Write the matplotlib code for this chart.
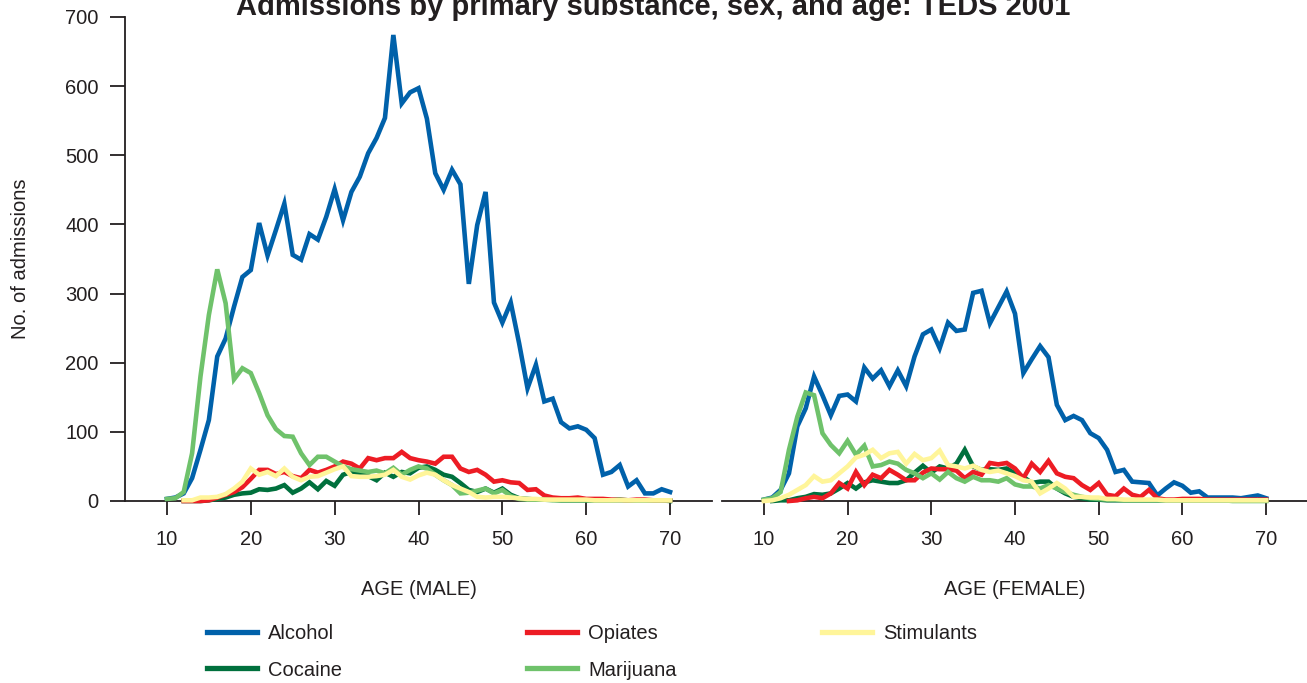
import numpy as np
import matplotlib.pyplot as plt
from matplotlib.lines import Line2D

plt.rcParams['font.family'] = ['Liberation Sans', 'DejaVu Sans']

# --- data: admissions per single year of age, 10..70 ---
ages = np.arange(10, 71)
age_ticks = [10, 20, 30, 40, 50, 60, 70]
y_ticks = [0, 100, 200, 300, 400, 500, 600, 700]

substances = ["Alcohol", "Opiates", "Stimulants", "Cocaine", "Marijuana"]
colors = {
    "Alcohol": "#0061aa",
    "Opiates": "#ed1c24",
    "Stimulants": "#fff59a",
    "Cocaine": "#00703d",
    "Marijuana": "#6fc26b",
}

male_alcohol = [3, 5, 11, 33, 74, 117, 209, 235, 281, 324, 334, 402, 355, 392, 430, 356,
                349, 386, 378, 411, 451, 406, 447, 469, 503, 525, 554, 674, 575, 591, 597,
                553, 474, 450, 479, 458, 314, 399, 447, 287, 258, 287, 228, 163, 197, 144,
                148, 114, 105, 108, 103, 91, 38, 42, 52, 21, 30, 11, 11, 17, 13]
male_opiates = [None, None, 0, 0, 0, 1, 5, 9, 13, 20, 32, 45, 45, 39, 42, 36, 33, 45, 41,
                45, 50, 57, 54, 47, 62, 59, 62, 62, 71, 62, 59, 57, 54, 64, 64, 47, 42, 45,
                38, 28, 30, 27, 26, 16, 17, 8, 5, 4, 4, 5, 3, 3, 3, 2, 2, 1, 2, 2, 1, 1, 1]
male_stimulants = [None, None, 1, 1, 5, 5, 6, 10, 18, 28, 47, 38, 42, 36, 47, 35, 30, 35,
                   36, 41, 46, 50, 36, 35, 35, 36, 38, 45, 35, 31, 37, 41, 38, 30, 23, 18,
                   13, 6, 5, 6, 6, 5, 4, 3, 3, 2, 2, 2, 2, 2, 2, 1, 1, 1, 1, 1, 1, 1, 1, 1, 1]
male_cocaine = [None, None, 0, 0, 0, 1, 3, 5, 9, 11, 12, 17, 16, 18, 23, 12, 18, 27, 17,
                29, 22, 38, 42, 40, 36, 30, 41, 35, 42, 40, 48, 50, 45, 38, 35, 26, 16, 13,
                18, 12, 18, 9, 4, 3, 2, 2, 2, 1, 1, 1, 1, 1, 1, 1, 1, 1, 1, 1, 1, 1, 0]
male_marijuana = [3, 4, 13, 69, 180, 269, 335, 286, 176, 192, 185, 156, 124, 104, 94, 93,
                  69, 52, 64, 64, 57, 50, 46, 44, 42, 44, 40, 48, 38, 45, 50, 47, 38, 30,
                  23, 11, 12, 15, 18, 11, 16, 7, 3, 2, 2, 2, 1, 1, 1, 1, 1, 1, 1, 1, 2, 1,
                  1, 1, 1, 1, 1]

female_alcohol = [2, 5, 16, 40, 108, 134, 180, 153, 124, 152, 154, 144, 193, 177, 189, 166,
                  189, 166, 209, 241, 248, 221, 258, 246, 248, 301, 304, 257, 280, 303, 271,
                  185, 205, 224, 208, 139, 117, 123, 117, 98, 91, 74, 42, 45, 28, 27, 26, 8,
                  18, 27, 22, 12, 14, 5, 5, 5, 5, 4, 6, 8, 4]
female_opiates = [None, None, None, 0, 1, 4, 6, 4, 11, 26, 18, 42, 23, 38, 33, 45, 38, 30,
                  30, 41, 47, 46, 46, 44, 33, 42, 38, 55, 53, 55, 47, 33, 54, 42, 58, 40, 35,
                  33, 23, 16, 26, 9, 7, 18, 9, 6, 16, 4, 2, 2, 3, 3, 3, 2, 2, 2, 2, 2, 2, 2, 2]
female_stimulants = [0, 1, 4, 9, 16, 23, 36, 28, 30, 40, 50, 63, 67, 74, 62, 69, 71, 54, 68,
                     59, 62, 73, 52, 50, 47, 51, 45, 42, 44, 40, 36, 30, 28, 11, 18, 26, 18,
                     6, 6, 5, 5, 3, 3, 2, 2, 2, 2, 2, 1, 1, 1, 1, 1, 1, 1, 1, 1, 1, 1, 1, 1]
female_cocaine = [None, 0, 1, 1, 4, 6, 10, 9, 11, 18, 26, 18, 27, 30, 28, 26, 26, 30, 41, 51,
                  41, 50, 47, 54, 74, 50, 45, 46, 45, 47, 40, 35, 26, 28, 28, 18, 11, 6, 4,
                  2, 2, 1, 1, 1, 1, 1, 1, 1, 1, 1, 1, 1, 1, 1, 1, 1, 1, 1, 1, 1, 1]
female_marijuana = [2, 4, 13, 74, 122, 157, 153, 98, 81, 69, 87, 67, 80, 50, 52, 57, 54, 45,
                    40, 33, 40, 31, 42, 33, 28, 35, 30, 30, 28, 33, 24, 21, 21, 18, 23, 18,
                    13, 9, 6, 4, 3, 2, 2, 1, 1, 1, 1, 1, 1, 1, 1, 1, 1, 1, 1, 1, 0, 0, 0, 0, 0]

male = {"Alcohol": male_alcohol, "Opiates": male_opiates, "Stimulants": male_stimulants,
        "Cocaine": male_cocaine, "Marijuana": male_marijuana}
female = {"Alcohol": female_alcohol, "Opiates": female_opiates,
          "Stimulants": female_stimulants, "Cocaine": female_cocaine,
          "Marijuana": female_marijuana}

# draw order (later = on top)
draw_order = ["Alcohol", "Cocaine", "Opiates", "Marijuana", "Stimulants"]

ink = "#231f20"
fs = 14.5
lw = 3.3

fig = plt.figure(figsize=(13.07, 6.83), dpi=100)
ax_m = fig.add_axes([125 / 1307, 182 / 683, 587 / 1307, 484 / 683])
ax_f = fig.add_axes([722 / 1307, 182 / 683, 586 / 1307, 484 / 683])

for ax, data, xlabel in [(ax_m, male, "AGE (MALE)"), (ax_f, female, "AGE (FEMALE)")]:
    for z, name in enumerate(draw_order):
        vals = np.array(data[name], dtype=float)
        ax.plot(ages, vals, color=colors[name], lw=lw, zorder=2 + z,
                solid_joinstyle="miter", clip_on=False)
    ax.set_xlim(5, 75)
    ax.set_ylim(0, 700)
    ax.set_xticks(age_ticks)
    ax.set_xlabel(xlabel, fontsize=fs, color=ink, labelpad=22)
    ax.tick_params(axis="x", direction="out", length=10, width=1.3, colors=ink,
                   labelsize=fs, pad=11)
    for side in ["top", "right"]:
        ax.spines[side].set_visible(False)
    ax.spines["bottom"].set_color(ink)
    ax.spines["bottom"].set_linewidth(1.3)
    ax.patch.set_alpha(0)

ax_m.set_yticks(y_ticks)
ax_m.tick_params(axis="y", direction="out", length=11, width=1.3, colors=ink,
                 labelsize=fs, pad=8)
ax_m.spines["left"].set_color(ink)
ax_m.spines["left"].set_linewidth(1.3)
ax_m.set_ylabel("No. of admissions", fontsize=fs, color=ink, labelpad=25)

ax_f.spines["left"].set_visible(False)
ax_f.set_yticks([])

fig.text(0.5, 1 - 15 / 683, "Admissions by primary substance, sex, and age: TEDS 2001",
         ha="center", va="baseline", fontsize=21, fontweight="bold", color=ink)

# legend laid out in three columns, read row by row
handles = {n: Line2D([], [], color=colors[n], lw=lw + 0.5) for n in substances}
columns = [(["Alcohol", "Cocaine"], 207), (["Opiates", "Marijuana"], 527),
           (["Stimulants"], 822)]
for names, x0 in columns:
    fig.legend([handles[n] for n in names], names, loc="upper left",
               bbox_to_anchor=(x0 / 1307, 1 - 624 / 683), frameon=False,
               fontsize=fs, handlelength=2.5, handletextpad=0.55, labelspacing=0.87,
               borderpad=0, borderaxespad=0, labelcolor=ink)

fig.savefig("out.png", dpi=100)
